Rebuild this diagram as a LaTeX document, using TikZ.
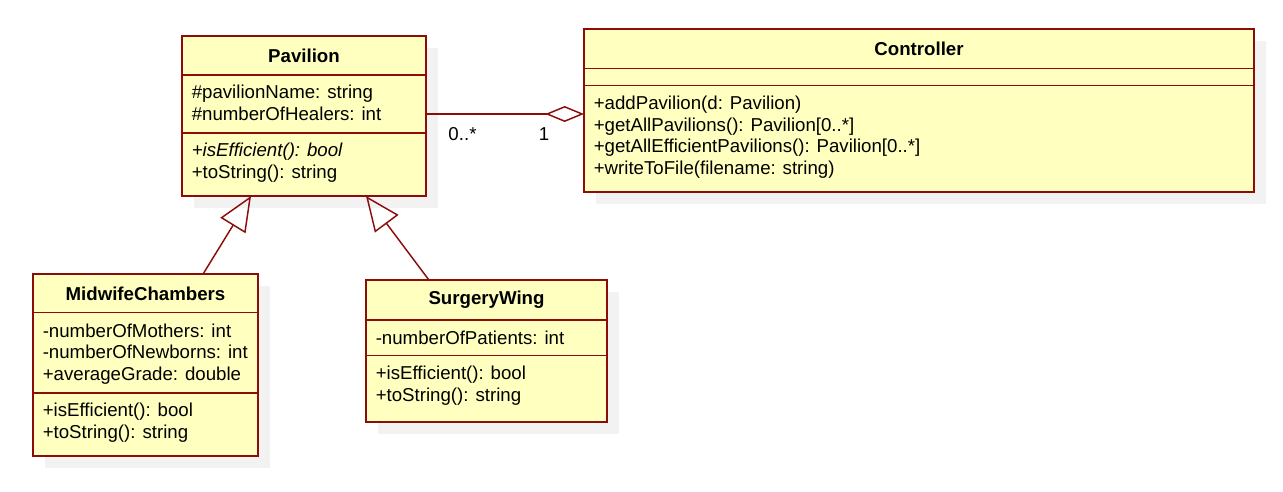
\documentclass[tikz,border=0pt]{standalone}
\usepackage{fontspec}
\setmainfont{Liberation Sans}
\usetikzlibrary{arrows.meta,calc}

\begin{document}
\begin{tikzpicture}[x=0.75pt,y=0.75pt,yscale=-1,xscale=1,
  classbox/.style={draw={rgb, 255:red, 140; green, 12; blue, 12}, line width=1.4pt, fill={rgb, 255:red, 255; green, 255; blue, 192}, anchor=north west, inner sep=0pt, outer sep=0pt},
  classline/.style={draw={rgb, 255:red, 140; green, 12; blue, 12}, line width=1.4pt},
  classshadow/.style={fill={rgb, 255:red, 242; green, 242; blue, 242}},
  classtitle/.style={font=\bfseries\fontsize{14}{16.3}\selectfont, inner sep=0pt},
  members/.style={font=\fontsize{14}{16.3}\selectfont, align=left, anchor=base west, inner sep=0pt},
  mult/.style={font=\fontsize{14}{16.3}\selectfont, anchor=base, inner sep=0pt},
  inherit/.style={draw={rgb, 255:red, 140; green, 12; blue, 12}, line width=1.1pt, -{Triangle[open, length=26pt, width=22pt]}},
  aggr/.style={draw={rgb, 255:red, 140; green, 12; blue, 12}, line width=1.1pt, -{Diamond[open, length=29pt, width=12pt]}}
]
\useasboundingbox (0,0) rectangle (1283,492);

%Shape: Shadows
\fill[classshadow] (194,48) rectangle (438,208);
\fill[classshadow] (596,41) rectangle (1266,204);
\fill[classshadow] (45,286) rectangle (270,468);
\fill[classshadow] (378,292) rectangle (619,434);

%Shape: Class Pavilion
\node[classbox, minimum width=183pt, minimum height=120pt] (Pavilion) at (182,36) {};
\draw[classline] (182,75) -- (426,75) (182,133) -- (426,133);
% Text Node (anchored at the baseline of the last line)
\node[classtitle] (pavTitle) at (304,55.5) {Pavilion};
\node[members] (pavAttr) at (191.5,120.7) {\#pavilionName: string\\\#numberOfHealers: int};
\node[members] (pavOps) at (191.5,178.7) {\textit{+isEfficient(): bool}\\+toString(): string};

%Shape: Class Controller
\node[classbox, minimum width=502.5pt, minimum height=122.25pt] (Controller) at (584,29) {};
\draw[classline] (584,68.5) -- (1254,68.5) (584,85.5) -- (1254,85.5);
% Text Node
\node[classtitle] (ctrlTitle) at (919,48.7) {Controller};
\node[members] (ctrlOps) at (593.5,174.7) {+addPavilion(d: Pavilion)\\+getAllPavilions(): Pavilion[0..*]\\+getAllEfficientPavilions(): Pavilion[0..*]\\+writeToFile(filename: string)};

%Shape: Class MidwifeChambers
\node[classbox, minimum width=168.75pt, minimum height=136.5pt] (MidwifeChambers) at (33,274) {};
\draw[classline] (33,312.5) -- (258,312.5) (33,393) -- (258,393);
% Text Node
\node[classtitle] (midTitle) at (145.5,293.5) {MidwifeChambers};
\node[members] (midAttr) at (42.5,380.5) {-numberOfMothers: int\\-numberOfNewborns: int\\+averageGrade: double};
\node[members] (midOps) at (42.5,438.7) {+isEfficient(): bool\\+toString(): string};

%Shape: Class SurgeryWing
\node[classbox, minimum width=180.75pt, minimum height=106.5pt] (SurgeryWing) at (366,280) {};
\draw[classline] (366,320) -- (607,320) (366,355.5) -- (607,355.5);
% Text Node
\node[classtitle] (surgTitle) at (486.5,300) {SurgeryWing};
\node[members] (surgAttr) at (375.5,344) {-numberOfPatients: int};
\node[members] (surgOps) at (375.5,401.2) {+isEfficient(): bool\\+toString(): string};

%Straight Lines: aggregation
\draw[aggr] ($(Pavilion.east)+(0,-2)$) coordinate (aggStart) -- (aggStart -| Controller.west);
\node[mult] (multMany) at (462.5,140.5) {0..*};
\node[mult] (multOne) at (544,140.5) {1};

%Straight Lines: generalization
\draw[inherit] ($(MidwifeChambers.north west)!0.756!(MidwifeChambers.north east)$) -- ($(Pavilion.south west)!0.283!(Pavilion.south east)$);
\draw[inherit] ($(SurgeryWing.north west)!0.261!(SurgeryWing.north east)$) -- ($(Pavilion.south west)!0.754!(Pavilion.south east)$);

\end{tikzpicture}
\end{document}
